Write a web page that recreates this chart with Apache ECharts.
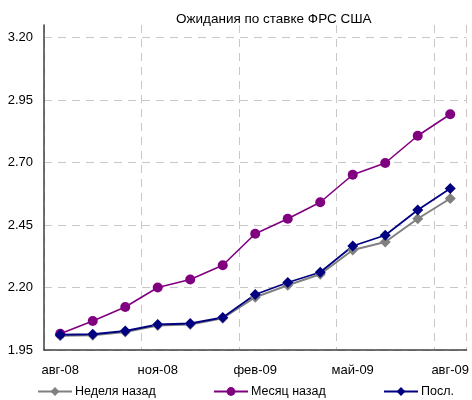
<!DOCTYPE html>
<html>
<head>
<meta charset="utf-8">
<script src="https://cdn.jsdelivr.net/npm/echarts@6/dist/echarts.min.js"></script>
<style>
  html, body { margin: 0; padding: 0; background: #fff; }
  #chart { width: 472px; height: 400px; }
</style>
</head>
<body>
<div id="chart"></div>
<script>
// Monthly points, Aug 2008 – Aug 2009
const months = ['авг-08','сен-08','окт-08','ноя-08','дек-08','янв-09','фев-09','мар-09','апр-09','май-09','июн-09','июл-09','авг-09'];

const weekAgo  = [2.007, 2.009, 2.022, 2.048, 2.052, 2.077, 2.161, 2.209, 2.253, 2.350, 2.382, 2.475, 2.556];
const monthAgo = [2.015, 2.066, 2.122, 2.200, 2.232, 2.289, 2.415, 2.475, 2.541, 2.651, 2.698, 2.807, 2.893];
const latest   = [2.011, 2.013, 2.026, 2.052, 2.056, 2.080, 2.172, 2.220, 2.261, 2.366, 2.409, 2.510, 2.596];

const seriesNames = ['Неделя назад', 'Месяц назад', 'Посл.'];
const titleText = 'Ожидания по ставке ФРС США';

const font = 'Liberation Sans, Arial, sans-serif';
const chart = echarts.init(document.getElementById('chart'), null, { renderer: 'canvas' });

// one legend block per series so each sits at its own spot along the bottom
const legendLeft = [37, 213, 383];
const legends = seriesNames.map((name, i) => ({
  left: legendLeft[i],
  top: 385,
  padding: 0,
  width: 200,
  itemWidth: 34,
  itemHeight: 11,
  textStyle: { fontFamily: font, fontSize: 12.5, color: '#000', padding: [0, 0, 0, -2] },
  data: [name]
}));

chart.setOption({
  animation: false,
  backgroundColor: '#ffffff',
  title: {
    text: titleText,
    left: 171,
    top: 7,
    textStyle: { fontFamily: font, fontSize: 13.5, fontWeight: 'normal', color: '#000' }
  },
  legend: legends,
  grid: { left: 44, right: 4, top: 25, bottom: 50, containLabel: false },
  xAxis: {
    type: 'category',
    data: months,
    boundaryGap: true,
    axisLine: { lineStyle: { color: '#404040', width: 1.5 } },
    axisTick: { show: false },
    axisLabel: { interval: 2, margin: 14, fontFamily: font, fontSize: 13, color: '#000' },
    splitLine: { show: true, interval: 2, lineStyle: { color: '#c8c8c8', type: [8, 6], width: 1 } }
  },
  yAxis: {
    type: 'value',
    min: 1.95,
    max: 3.25,
    interval: 0.25,
    axisLine: { show: true, lineStyle: { color: '#404040', width: 1.5 } },
    axisTick: { show: false },
    axisLabel: {
      margin: 11, fontFamily: font, fontSize: 13, color: '#000',
      showMaxLabel: false,
      formatter: v => v.toFixed(2)
    },
    splitLine: { show: true, showMaxLine: false, lineStyle: { color: '#c8c8c8', type: [8, 6], width: 1 } }
  },
  series: [
    {
      name: seriesNames[0], type: 'line', data: weekAgo,
      symbol: 'diamond', symbolSize: 11,
      itemStyle: { color: '#808080' },
      lineStyle: { color: '#808080', width: 2 }
    },
    {
      name: seriesNames[1], type: 'line', data: monthAgo,
      symbol: 'circle', symbolSize: 10,
      itemStyle: { color: '#800080' },
      lineStyle: { color: '#800080', width: 1.6 }
    },
    {
      name: seriesNames[2], type: 'line', data: latest,
      symbol: 'diamond', symbolSize: 11,
      itemStyle: { color: '#000080' },
      lineStyle: { color: '#000080', width: 1.8 }
    }
  ]
});
</script>
</body>
</html>
